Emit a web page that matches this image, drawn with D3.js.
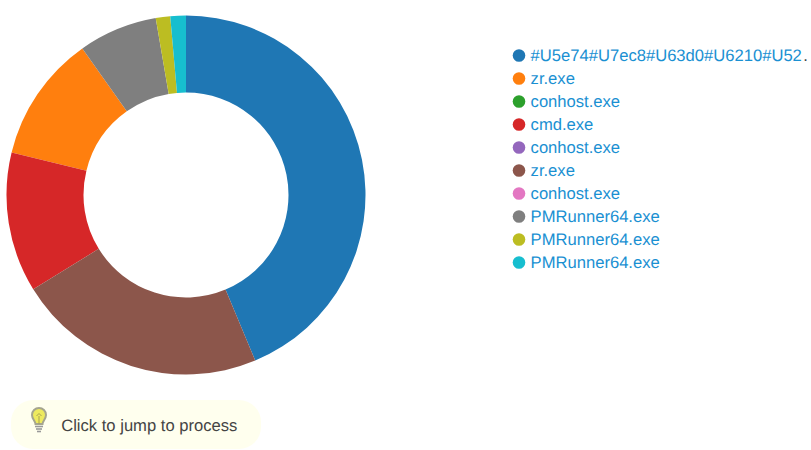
<!DOCTYPE html>
<html>
<head>
<meta charset="utf-8">
<script src="https://cdn.jsdelivr.net/npm/d3@7"></script>
<style>
html,body{margin:0;padding:0;background:#fff;overflow:hidden}
text{font-family:"Liberation Sans",Arial,sans-serif;text-rendering:geometricPrecision}
</style>
</head>
<body>
<svg id="chart" width="811" height="450"></svg>
<script>
// Share of samples per process, in legend order
const names = ["#U5e74#U7ec8#U63d0#U6210#U52", "zr.exe", "conhost.exe", "cmd.exe", "conhost.exe", "zr.exe", "conhost.exe", "PMRunner64.exe", "PMRunner64.exe", "PMRunner64.exe"];
const shares = [43.7, 11.4, 0, 12.6, 0, 22.5, 0, 7.1, 1.3, 1.4];
const hint = "Click to jump to process";

const svg = d3.select("#chart");
const color = d3.scaleOrdinal(d3.range(names.length), d3.schemeCategory10);

// Donut: largest slices first, the two smallest kept in legend order at the end
const order = [0, 5, 3, 1, 7, 8, 9, 2, 4, 6];
const pie = d3.pie().value(i => shares[i]).sort((a, b) => order.indexOf(a) - order.indexOf(b));
const arc = d3.arc().innerRadius(102.5).outerRadius(179.5);
svg.append("g").attr("transform", "translate(186,195)")
  .selectAll("path").data(pie(d3.range(names.length))).join("path")
  .attr("d", arc).attr("fill", d => color(d.data));

// Legend
const rowY = d3.scaleLinear().domain([0, 1]).range([55.5, 78.5]);
const legend = svg.append("g").selectAll("g").data(names).join("g")
  .attr("transform", (d, i) => `translate(519,${rowY(i)})`);
legend.append("circle").attr("r", 6.3).attr("fill", (d, i) => color(i));
legend.append("text").attr("x", 11.6).attr("dy", "0.35em")
  .attr("font-size", 16.6).attr("fill", "#1a90d2").text(d => d);
legend.filter((d, i) => i === 0).append("text").attr("x", 284.2).attr("dy", "0.35em")
  .attr("font-size", 16.6).attr("fill", "#444").text(".");

// Hint pill with a light bulb
const tip = svg.append("g");
tip.append("rect").attr("x", 11).attr("y", 400).attr("width", 250).attr("height", 49).attr("rx", 22)
  .attr("fill", "#ffffee");
const bulb = tip.append("g").attr("transform", "translate(39,419)");
bulb.append("path").attr("d", "M-3.5,5 C-3.5,2 -7,0 -7,-4 A7,7 0 1 1 7,-4 C7,0 3.5,2 3.5,5 Z")
  .attr("fill", "#eeea5e").attr("stroke", "#a5a58e").attr("stroke-width", 2);
bulb.append("path").attr("d", "M0,5 V-3 M-2.5,-3 L0,-5.5 L2.5,-3").attr("fill", "none")
  .attr("stroke", "#a8a250").attr("stroke-width", 1);
bulb.selectAll("line").data([7.5, 10, 12.5]).join("line")
  .attr("x1", (d, i) => -4 + i).attr("x2", (d, i) => 4 - i).attr("y1", d => d).attr("y2", d => d)
  .attr("stroke", "#999").attr("stroke-width", 1.6);
tip.append("text").attr("x", 61.2).attr("y", 431).attr("font-size", 16.6).attr("fill", "#444").text(hint);
</script>
</body>
</html>
